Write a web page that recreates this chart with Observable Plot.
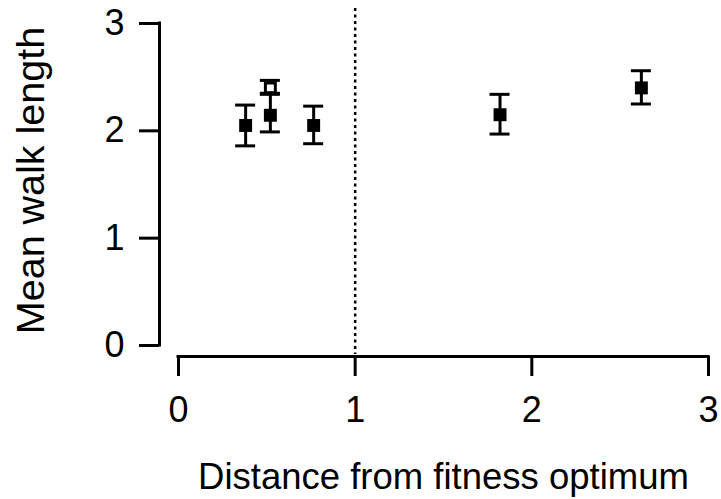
<!DOCTYPE html>
<html>
<head>
<meta charset="utf-8">
<script src="https://cdn.jsdelivr.net/npm/d3@7"></script>
<script src="https://cdn.jsdelivr.net/npm/@observablehq/plot@0.6"></script>
<style>
  html, body { margin: 0; padding: 0; background: white; }
</style>
</head>
<body>
<div id="chart"></div>
<script>
// Data
const xs    = [0.38, 0.52, 0.765, 1.82, 2.62];
const means = [2.05, 2.145, 2.05, 2.15, 2.40];
const lows  = [1.86, 1.99, 1.88, 1.97, 2.25];
const highs = [2.24, 2.35, 2.23, 2.34, 2.56];

const openXs    = [0.52];
const openMeans = [2.40];
const openLows  = [2.34];
const openHighs = [2.47];

const xTicks = [0, 1, 2, 3];
const yTicks = [0, 1, 2, 3];
const optimum = [1];

const xTitle = "Distance from fitness optimum";
const yTitle = "Mean walk length";

const filled = xs.map((x, i) => ({x, y: means[i], lo: lows[i], hi: highs[i]}));
const open = openXs.map((x, i) => ({x, y: openMeans[i], lo: openLows[i], hi: openHighs[i]}));

const errorMarks = (data) => [
  Plot.ruleX(data, {x: "x", y1: "lo", y2: "hi", stroke: "black", strokeWidth: 3}),
  Plot.ruleY(data, {y: "hi", x1: "x", x2: "x", insetLeft: -10, insetRight: -10, stroke: "black", strokeWidth: 3}),
  Plot.ruleY(data, {y: "lo", x1: "x", x2: "x", insetLeft: -10, insetRight: -10, stroke: "black", strokeWidth: 3})
];

const fmt = d3.format("d");

const chart = Plot.plot({
  width: 721,
  height: 499,
  marginLeft: 178,
  marginRight: 13,
  marginTop: 23,
  marginBottom: 154,
  x: {domain: [0, 3]},
  y: {domain: [0, 3]},
  style: {fontFamily: "'Liberation Sans', Arial, Helvetica, sans-serif", fontSize: "36px", color: "black", background: "white"},
  marks: [
    Plot.axisY({ticks: yTicks, tickFormat: fmt, anchor: "left", dx: -19, tickSize: 20, tickPadding: 15, fontSize: 36, strokeWidth: 3, label: null}),
    Plot.axisX({ticks: xTicks, tickFormat: fmt, anchor: "bottom", dy: 11, tickSize: 20, tickPadding: 20, fontSize: 36, strokeWidth: 3, label: null}),
    Plot.ruleX([0], {y1: 0, y2: 3, dx: -19, stroke: "black", strokeWidth: 3, strokeLinecap: "square"}),
    Plot.ruleY([0], {x1: 0, x2: 3, dy: 11, stroke: "black", strokeWidth: 3, strokeLinecap: "square"}),
    Plot.ruleX(optimum, {stroke: "black", strokeWidth: 2.5, strokeDasharray: "3,3.5", insetTop: -15, insetBottom: -9}),
    ...errorMarks(open),
    Plot.dot(open, {x: "x", y: "y", symbol: "square", r: 5.6, fill: "white", stroke: "black", strokeWidth: 3}),
    ...errorMarks(filled),
    Plot.dot(filled, {x: "x", y: "y", symbol: "square", r: 7.3, fill: "black", stroke: "none"}),
    Plot.text([xTitle], {text: d => d, frameAnchor: "bottom", textAnchor: "middle", lineAnchor: "bottom", dy: 143, fontSize: 36.5, fill: "black"}),
    Plot.text([yTitle], {text: d => d, frameAnchor: "left", textAnchor: "middle", rotate: -90, lineAnchor: "bottom", dx: -135, dy: -4, fontSize: 39.5, fill: "black"})
  ]
});

document.getElementById("chart").appendChild(chart);
</script>
</body>
</html>
